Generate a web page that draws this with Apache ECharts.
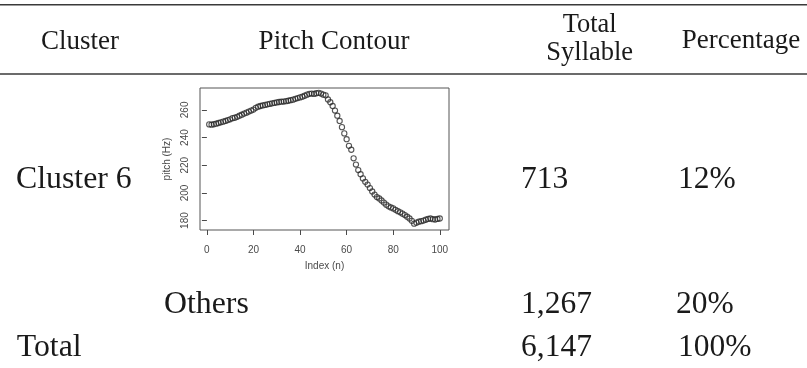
<!DOCTYPE html>
<html>
<head>
<meta charset="utf-8">
<script src="https://cdn.jsdelivr.net/npm/echarts@6/dist/echarts.min.js"></script>
<style>
html,body{margin:0;padding:0;background:#fff;}
#chart{width:807px;height:368px;}
</style>
</head>
<body>
<div id="chart"></div>
<script>
// ---- data ----
const headers = ['Cluster', 'Pitch Contour', 'Total\nSyllable', 'Percentage'];
const rowLabels = ['Cluster 6', 'Others', 'Total'];
const totalSyllable = ['713', '1,267', '6,147'];
const percentage = ['12%', '20%', '100%'];

const pitchHz = [
  249.5, 249.3, 249.6, 250.0, 250.5, 251.0, 251.5, 252.0, 252.6, 253.2,
  254.0, 254.3, 255.0, 255.8, 256.5, 257.3, 258.0, 258.8, 259.5, 260.2,
  261.5, 262.3, 262.8, 263.2, 263.6, 264.0, 264.3, 264.7, 265.0, 265.4,
  265.7, 265.9, 266.0, 266.3, 266.6, 267.0, 267.4, 268.0, 268.5, 269.0,
  269.5, 270.2, 271.0, 271.6, 271.8, 271.5, 272.0, 272.3, 271.8, 271.0,
  270.5, 267.5, 265.5, 262.8, 259.5, 255.8, 252.0, 247.5, 243.0, 238.8,
  234.0, 231.2, 225.0, 220.5, 216.5, 213.5, 210.5, 208.0, 206.0, 203.5,
  201.0, 198.8, 197.0, 196.0, 194.5, 193.0, 191.5, 190.3, 189.5, 188.8,
  187.8, 186.8, 186.0, 185.0, 184.0, 182.8, 181.5, 179.8, 177.8, 178.5,
  179.2, 179.6, 180.0, 180.6, 181.2, 181.5, 181.0, 180.8, 181.2, 181.5
];
const xTicks = [0, 20, 40, 60, 80, 100];
const yTicks = [180, 200, 220, 240, 260];

// ---- build ----
const points = pitchHz.map((v, i) => [i + 1, v]);

const serif = '"Liberation Serif", "Times New Roman", serif';
const narrow = '"Liberation Sans Narrow", "Arial Narrow", "Liberation Sans", Arial, sans-serif';
const ink = '#1a1a1a';

const graphics = [];
// rules
[4.7, 74].forEach(y => {
  graphics.push({
    type: 'line', shape: {x1: 0, y1: y, x2: 807, y2: y},
    style: {stroke: '#3a3a3a', lineWidth: 1.6}, silent: true
  });
});
function txt(t, x, y, size, align) {
  graphics.push({
    type: 'text', x: x, y: y, silent: true,
    style: {text: t, font: size + 'px ' + serif, fill: ink,
            textAlign: align, textVerticalAlign: 'middle'}
  });
}
// header
const hdrX = [80, 334, 589.7, 741];
txt(headers[0], hdrX[0], 41.5, 27, 'center');
txt(headers[1], hdrX[1], 41.5, 27, 'center');
const two = headers[2].split('\n');
txt(two[0], hdrX[2], 25, 26.5, 'center');
txt(two[1], hdrX[2], 53, 26.5, 'center');
txt(headers[3], hdrX[3], 41, 27, 'center');
// body rows
const rowY = [179.5, 304.8, 347.5];
const labelX = [16, 164, 16.7];
const pctX = [678, 676, 678];
rowLabels.forEach((r, i) => {
  txt(r, labelX[i], rowY[i], 31.8, 'left');
  txt(totalSyllable[i], 521, rowY[i], 31.5, 'left');
  txt(percentage[i], pctX[i], rowY[i], 31.5, 'left');
});

const axisTxt = {color: '#4a4a4a', fontFamily: narrow, fontSize: 10};

const option = {
  animation: false,
  backgroundColor: '#ffffff',
  grid: {left: 200, top: 88, width: 249, height: 142, show: true,
         borderColor: '#555555', borderWidth: 1, backgroundColor: 'transparent'},
  xAxis: {
    type: 'value', min: -2.96, max: 103.96,
    name: 'Index (n)', nameLocation: 'middle', nameGap: 31,
    nameTextStyle: axisTxt,
    axisLine: {show: false},
    axisTick: {show: true, length: 5, customValues: xTicks, lineStyle: {color: '#4a4a4a', width: 1}},
    axisLabel: Object.assign({customValues: xTicks, margin: 15}, axisTxt),
    splitLine: {show: false}
  },
  yAxis: {
    type: 'value', min: 173.2, max: 275.8,
    name: 'pitch (Hz)', nameLocation: 'middle', nameGap: 28,
    nameTextStyle: axisTxt,
    axisLine: {show: false},
    axisTick: {show: true, length: 5, customValues: yTicks, lineStyle: {color: '#4a4a4a', width: 1}},
    axisLabel: Object.assign({customValues: yTicks, rotate: 90, margin: 10}, axisTxt),
    splitLine: {show: false}
  },
  series: [{
    type: 'scatter',
    data: points,
    symbol: 'circle',
    symbolSize: 5.2,
    itemStyle: {color: 'rgba(255,255,255,0)', borderColor: '#2a2a2a', borderWidth: 1.1},
    silent: true
  }],
  graphic: graphics
};

const chart = echarts.init(document.getElementById('chart'), null, {renderer: 'canvas'});
chart.setOption(option);
</script>
</body>
</html>
